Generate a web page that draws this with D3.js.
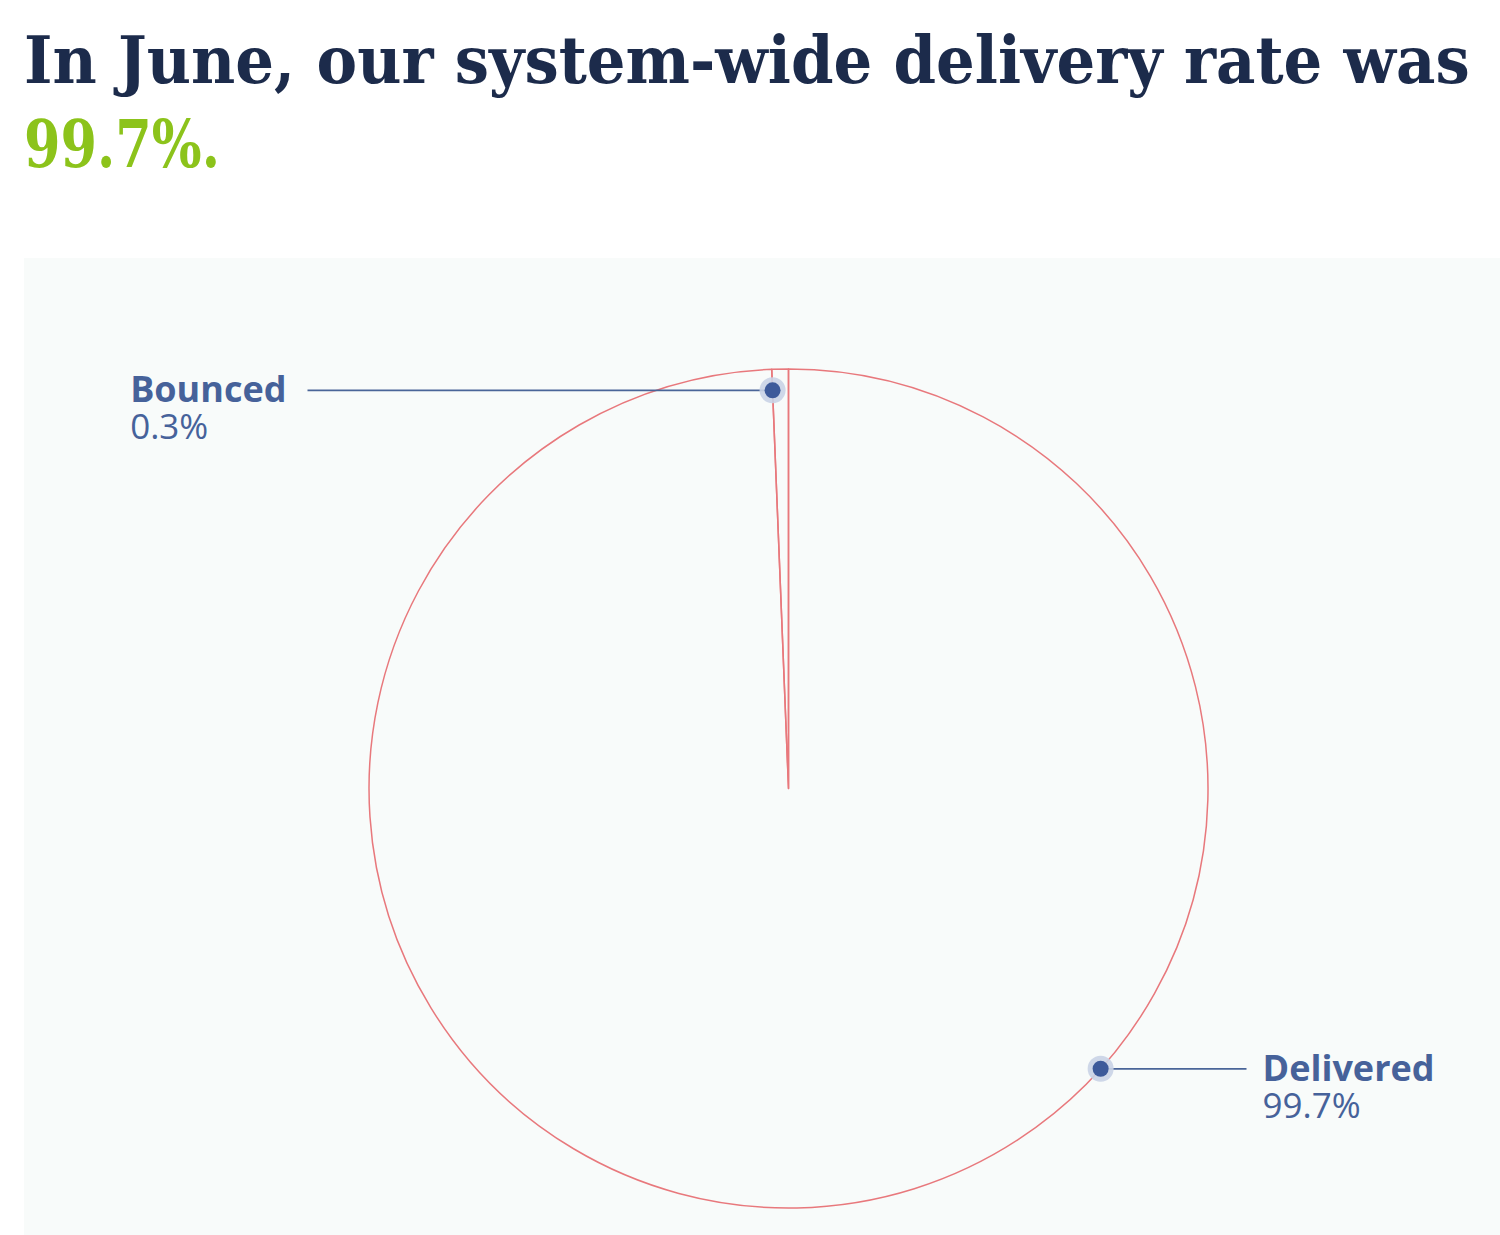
<!DOCTYPE html>
<html><head><meta charset="utf-8">
<script src="https://cdn.jsdelivr.net/npm/d3@7"></script>
<style>
html,body{margin:0;padding:0;background:#ffffff;}
svg{display:block;}
</style></head>
<body>
<svg id="chart" width="1500" height="1235"></svg>
<script>
// ---- data ----
const titleLine1 = "In June, our system-wide delivery rate was";
const titleValue = "99.7%.";
const categories = ["Delivered", "Bounced"];
const values = [99.7, 0.3];
const valueLabels = ["99.7%", "0.3%"];

// ---- layout ----
const W = 1500, H = 1235;
const svg = d3.select("#chart");
const navy = "#1c2b4b", green = "#8cc31b", labelBlue = "#46629a";

// title: fit horizontally with an x-only scale
function fitText(txt, x, y, width, color) {
  const t = svg.append("text")
    .attr("font-family", "DejaVu Serif").attr("font-weight", 700).attr("font-size", 66)
    .attr("fill", color).text(txt);
  const len = t.node().getComputedTextLength() || width;
  t.attr("transform", `translate(${x},${y}) scale(${width / len},1)`);
}
fitText(titleLine1, 24, 83, 1446, navy);
fitText(titleValue, 24, 167, 196, green);

// panel
svg.append("rect").attr("x", 24).attr("y", 258).attr("width", W - 24).attr("height", H - 258)
  .attr("fill", "#f8fbfa");

const cx = 788.5, cy = 788.5, R = 419.5;
const g = svg.append("g").attr("transform", `translate(${cx},${cy})`);

// pie with a minimum displayed slice angle (rendering rule, data unchanged)
const minSliceAngle = 0.04;
const data = categories.map((c, i) => ({ c, v: values[i], label: valueLabels[i] }));
const total = d3.sum(data, d => d.v);
const tau = 2 * Math.PI;
const small = data.filter(d => d.v / total * tau < minSliceAngle);
const smallSum = d3.sum(small, d => d.v);
const bigSum = total - smallSum;
const bigAngle = tau - small.length * minSliceAngle;
const pie = d3.pie().sort(null)
  .value(d => (d.v / total * tau < minSliceAngle) ? minSliceAngle : d.v / bigSum * bigAngle);
const arcs = pie(data);
const arc = d3.arc().innerRadius(0).outerRadius(R);

g.selectAll("path.slice").data(arcs).join("path")
  .attr("class", "slice")
  .attr("d", arc)
  .attr("fill", "none")
  .attr("stroke", "#e8787c")
  .attr("stroke-width", 1.5)
  .attr("stroke-linejoin", "round");

// markers: position along each slice (fraction of slice span) & radius fraction
const markerPos = { Delivered: 0.3688, Bounced: 0.0 };
const markerRadius = { Delivered: 1.0, Bounced: 0.95 };
const labelSide = { Delivered: "right", Bounced: "left" };

arcs.forEach(a => {
  const d = a.data;
  const ang = a.startAngle + (a.endAngle - a.startAngle) * markerPos[d.c];
  const r = R * markerRadius[d.c];
  const mx = r * Math.sin(ang), my = -r * Math.cos(ang);
  const right = labelSide[d.c] === "right";
  const lineEnd = right ? 458 : -481;
  g.append("line").attr("x1", mx).attr("y1", my).attr("x2", lineEnd).attr("y2", my)
    .attr("stroke", "#4a6598").attr("stroke-width", 1.8);
  g.append("circle").attr("cx", mx).attr("cy", my).attr("r", 13)
    .attr("fill", "#c9d3e6").attr("opacity", 0.9);
  g.append("circle").attr("cx", mx).attr("cy", my).attr("r", 8)
    .attr("fill", "#3d5a9a");
  const tx = right ? lineEnd + 16 : lineEnd - 21;
  const t = g.append("text").attr("y", my + 12)
    .attr("font-family", "Open Sans").attr("fill", labelBlue);
  const nameSpan = t.append("tspan").attr("x", tx).attr("font-weight", 700)
    .attr("font-size", 36).text(d.c);
  const nameW = nameSpan.node().getComputedTextLength();
  const left = right ? tx : tx - nameW;
  nameSpan.attr("x", left);
  t.append("tspan").attr("x", left).attr("dy", 37).attr("font-weight", 400)
    .attr("font-size", 35).text(d.label);
});
</script>
</body></html>
